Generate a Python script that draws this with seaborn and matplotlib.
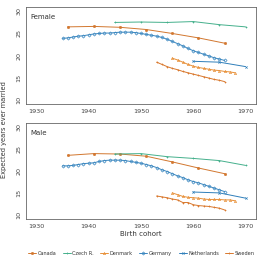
import matplotlib
matplotlib.use('Agg')
import matplotlib.pyplot as plt
import seaborn as sb
import pandas as pd
import numpy as np

sb.set_style('white')
plt.rcParams['font.family'] = ['DejaVu Sans']

countries = ['Canada', 'Czech R.', 'Denmark', 'Germany', 'Netherlands', 'Sweden']

canada_years = [1936, 1941, 1946, 1951, 1956, 1961, 1966]
canada_female = [26.5, 26.6, 26.4, 25.9, 25.0, 24.0, 22.8]
canada_male = [23.6, 24.0, 23.9, 23.4, 22.1, 20.7, 19.4]

czech_years = [1945, 1950, 1955, 1960, 1965, 1970]
czech_female = [27.5, 27.6, 27.5, 27.7, 27.0, 26.5]
czech_male = [23.9, 24.0, 23.3, 22.9, 22.4, 21.3]

denmark_years = list(range(1956, 1969))
denmark_female = [19.4, 19.0, 18.5, 18.0, 17.6, 17.3, 17.1, 16.9, 16.7, 16.6, 16.4, 16.3, 16.1]
denmark_male = [15.0, 14.6, 14.2, 14.0, 13.9, 13.8, 13.6, 13.5, 13.5, 13.5, 13.4, 13.4, 13.2]

germany_years = list(range(1935, 1967))
germany_female = [23.9, 24.0, 24.2, 24.4, 24.5, 24.7, 24.9, 25.0, 25.1, 25.1, 25.2, 25.3,
                  25.3, 25.3, 25.2, 25.0, 24.8, 24.6, 24.4, 24.1, 23.7, 23.2, 22.7, 22.2,
                  21.6, 21.1, 20.7, 20.3, 19.9, 19.5, 19.2, 18.9]
germany_male = [21.2, 21.2, 21.3, 21.5, 21.7, 21.8, 21.9, 22.2, 22.4, 22.5, 22.5, 22.5,
                22.4, 22.2, 22.0, 21.8, 21.5, 21.2, 20.8, 20.3, 19.9, 19.4, 18.9, 18.5,
                18.0, 17.6, 17.3, 16.9, 16.5, 16.1, 15.7, 15.3]

netherlands_years = [1960, 1965, 1970]
netherlands_female = [18.7, 18.5, 17.5]
netherlands_male = [15.2, 15.0, 13.8]

sweden_years = list(range(1953, 1967))
sweden_female = [18.5, 18.0, 17.5, 17.1, 16.8, 16.4, 16.1, 15.8, 15.5, 15.2, 14.9, 14.6, 14.4, 14.1]
sweden_male = [14.3, 14.1, 13.9, 13.6, 13.4, 12.8, 12.8, 12.3, 12.1, 12.0, 11.9, 11.7, 11.5, 11.1]

series = {
    'Canada': (canada_years, canada_female, canada_male),
    'Czech R.': (czech_years, czech_female, czech_male),
    'Denmark': (denmark_years, denmark_female, denmark_male),
    'Germany': (germany_years, germany_female, germany_male),
    'Netherlands': (netherlands_years, netherlands_female, netherlands_male),
    'Sweden': (sweden_years, sweden_female, sweden_male),
}

rows = []
for c, (yrs, fem, mal) in series.items():
    for y, f, m in zip(yrs, fem, mal):
        rows.append({'country': c, 'sex': 'Female', 'cohort': y, 'years': f})
        rows.append({'country': c, 'sex': 'Male', 'cohort': y, 'years': m})
df = pd.DataFrame(rows)

palette = {'Canada': '#d2772f', 'Czech R.': '#45b08c', 'Denmark': '#e8913a',
           'Germany': '#3a87c0', 'Netherlands': '#2f7fba', 'Sweden': '#d9782d'}
markers = {'Canada': 'o', 'Czech R.': '+', 'Denmark': '^',
           'Germany': 'D', 'Netherlands': 'x', 'Sweden': '+'}
hollow = {'Denmark', 'Germany'}

fig = plt.figure(figsize=(2.57, 2.59), dpi=100)
ax_f = fig.add_axes([0.101, 0.598, 0.895, 0.375])
ax_m = fig.add_axes([0.101, 0.154, 0.895, 0.371])

for ax, sex in [(ax_f, 'Female'), (ax_m, 'Male')]:
    for c in countries:
        sub = df[(df.sex == sex) & (df.country == c)]
        sb.lineplot(data=sub, x='cohort', y='years', color=palette[c],
                    marker=markers[c], ax=ax, linewidth=0.7, markersize=1.6,
                    markeredgewidth=0.5, markeredgecolor=palette[c],
                    markerfacecolor='none' if c in hollow else palette[c],
                    label=c if sex == 'Male' else None)
    ax.set_xlim(1928, 1972)
    ax.set_ylim(9, 31)
    ax.set_xticks([1930, 1940, 1950, 1960, 1970])
    ax.set_yticks([10, 15, 20, 25, 30])
    ax.tick_params(labelsize=4.6, length=2, width=0.5, pad=1.5, colors='#444444')
    for lbl in ax.get_yticklabels():
        lbl.set_rotation(90)
        lbl.set_va('center')
    for s in ax.spines.values():
        s.set_color('#666666')
        s.set_linewidth(0.6)
    ax.set_xlabel('')
    ax.set_ylabel('')
    ax.text(0.02, 0.93, sex, transform=ax.transAxes, fontsize=5, va='top', ha='left',
            color='#333333')

ax_m.set_xlabel('Birth cohort', fontsize=5, labelpad=1.5, color='#333333')
fig.text(0.015, 0.5, 'Expected years ever married', rotation=90, fontsize=4.8,
         va='center', ha='center', color='#333333')

handles, labels = ax_m.get_legend_handles_labels()
if ax_m.get_legend() is not None:
    ax_m.get_legend().remove()
leg = fig.legend(handles, labels, loc='center', bbox_to_anchor=(0.55, 0.022), ncol=6,
                 frameon=False, fontsize=3.6, handlelength=1.6, handletextpad=0.3,
                 columnspacing=1.3, borderaxespad=0)
for t in leg.get_texts():
    t.set_color('#333333')

fig.savefig('out.png', dpi=100)
